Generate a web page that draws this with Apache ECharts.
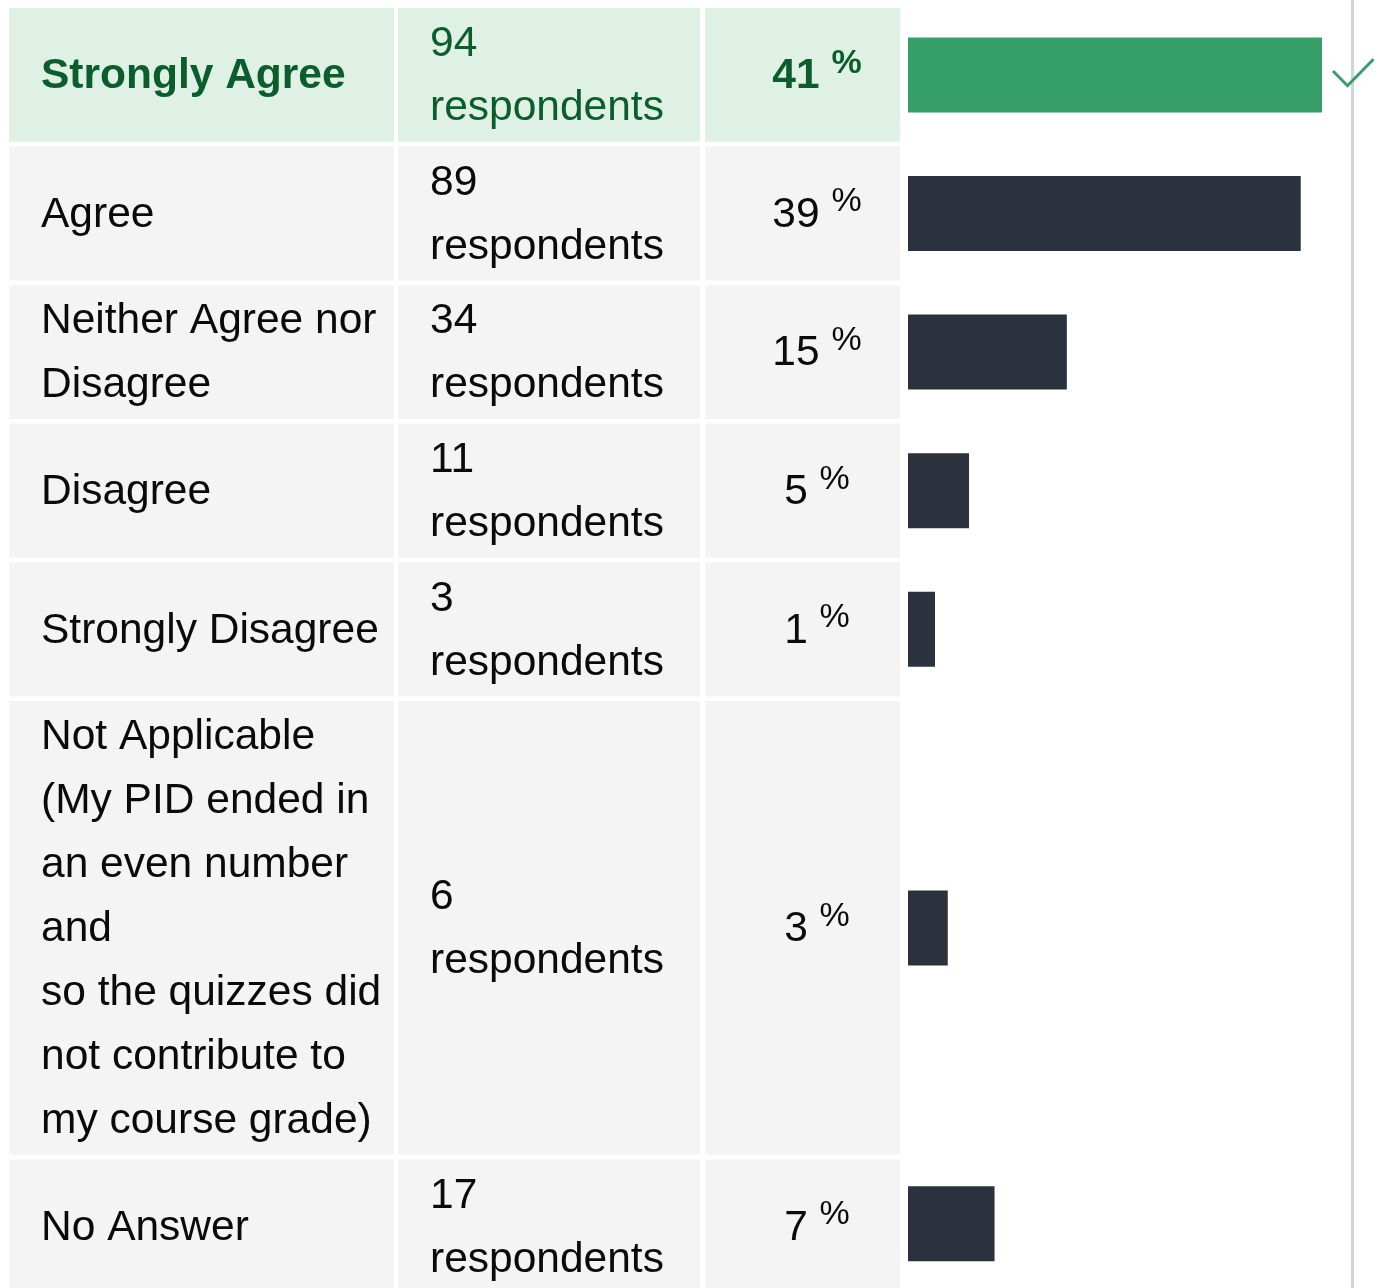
<!DOCTYPE html>
<html>
<head>
<meta charset="utf-8">
<title>Survey responses</title>
<script src="https://cdn.jsdelivr.net/npm/echarts@6/dist/echarts.min.js"></script>
<style>
  html, body { margin: 0; padding: 0; background: #ffffff; }
  #chart { width: 1382px; height: 1288px; }
</style>
</head>
<body>
<div id="chart"></div>
<script>
// ---- data ----
const categories = [
  'Strongly Agree',
  'Agree',
  'Neither Agree nor\nDisagree',
  'Disagree',
  'Strongly Disagree',
  'Not Applicable\n(My PID ended in\nan even number\nand\nso the quizzes did\nnot contribute to\nmy course grade)',
  'No Answer'
];
const counts = [94, 89, 34, 11, 3, 6, 17];
const percents = [41, 39, 15, 5, 1, 3, 7];
const countUnit = 'respondents';
const correctIndex = 0;

// ---- layout & style ----
const FONT = '"Liberation Sans", Arial, Helvetica, sans-serif';
const FS = 42.5, FS_SUP = 34, LINE_H = 64;
const ROW_PAD = 5.8, ROW_GAP = 4.8, TOP = 8;
const COLS = [{ x: 9, w: 385 }, { x: 398, w: 302 }, { x: 705, w: 195 }];
const TEXT_X = [41, 430];
const PCT_CENTER_X = 817;
const BAR_LEFT = 908, BAR_H = 75;
const AXIS_MIN = -3.35, AXIS_MAX = 100, PX_PER_UNIT = 4.2526;

const C_HEAD_BG = '#dff0e5', C_BG = '#f4f4f4';
const C_HEAD_TXT = '#0b5e2b', C_TXT = '#0a0a0a';
const C_HEAD_BAR = '#359f67', C_BAR = '#2b323d';
const C_RULE = '#cfd5de';

// row geometry from the number of text lines in each row
const rows = [];
let y = TOP;
categories.forEach(function (c) {
  const lines = Math.max(c.split('\n').length, 2);
  const h = lines * LINE_H + ROW_PAD;
  rows.push({ top: y, h: h, mid: y + h / 2 });
  y += h + ROW_GAP;
});

const grids = [], xAxes = [], yAxes = [], series = [], graphics = [];

// right-hand rule line
graphics.push({
  type: 'rect', z: 0,
  shape: { x: 1351, y: 0, width: 3, height: 1288 },
  style: { fill: C_RULE }
});

rows.forEach(function (r, i) {
  const head = i === correctIndex;
  const bg = head ? C_HEAD_BG : C_BG;
  const tc = head ? C_HEAD_TXT : C_TXT;

  COLS.forEach(function (col) {
    graphics.push({
      type: 'rect', z: 0,
      shape: { x: col.x, y: r.top, width: col.w, height: r.h },
      style: { fill: bg }
    });
  });

  graphics.push({
    type: 'text', z: 1, x: TEXT_X[0], y: r.mid + 1.5,
    style: {
      text: categories[i], fill: tc, fontSize: FS, fontFamily: FONT,
      fontWeight: head ? 'bold' : 'normal', lineHeight: LINE_H,
      align: 'left', verticalAlign: 'middle'
    }
  });

  graphics.push({
    type: 'text', z: 1, x: TEXT_X[1], y: r.mid + 1.5,
    style: {
      text: counts[i] + '\n' + countUnit, fill: tc, fontSize: FS, fontFamily: FONT,
      lineHeight: LINE_H, align: 'left', verticalAlign: 'middle'
    }
  });

  const w = head ? 'bold' : 'normal';
  graphics.push({
    type: 'text', z: 1, x: PCT_CENTER_X, y: r.mid + 1.5,
    style: {
      text: '{n|' + percents[i] + ' }{s|%}',
      align: 'center', verticalAlign: 'middle',
      rich: {
        n: { fill: tc, fontSize: FS, fontFamily: FONT, fontWeight: w, lineHeight: LINE_H },
        s: { fill: tc, fontSize: FS_SUP, fontFamily: FONT, fontWeight: w, lineHeight: FS_SUP, padding: [0, 0, 26, 0] }
      }
    }
  });

  // one grid per row so each bar sits in its own row band
  grids.push({
    left: BAR_LEFT, top: r.top, height: r.h,
    width: (AXIS_MAX - AXIS_MIN) * PX_PER_UNIT, containLabel: false
  });
  xAxes.push({
    type: 'value', gridIndex: i, min: AXIS_MIN, max: AXIS_MAX, show: false
  });
  yAxes.push({
    type: 'category', gridIndex: i, data: [categories[i]], show: false
  });
  series.push({
    type: 'custom', name: categories[i], xAxisIndex: i, yAxisIndex: i,
    data: [[counts[i], 0]],
    renderItem: function (params, api) {
      const cs = params.coordSys;
      const end = api.coord([api.value(0), api.value(1)]);
      return {
        type: 'rect',
        shape: { x: cs.x, y: end[1] - BAR_H / 2, width: end[0] - cs.x, height: BAR_H },
        style: { fill: head ? C_HEAD_BAR : C_BAR }
      };
    },
    silent: true
  });
});

// check mark beside the highlighted answer
const cm = rows[correctIndex].mid;
graphics.push({
  type: 'polyline', z: 5,
  shape: { points: [[1333, cm - 3.9], [1347.5, cm + 10.8], [1373.5, cm - 15.6]] },
  style: { stroke: C_HEAD_BAR, lineWidth: 3, fill: null }
});

const chart = echarts.init(document.getElementById('chart'), null, { renderer: 'canvas' });
chart.setOption({
  backgroundColor: '#ffffff',
  animation: false,
  grid: grids,
  xAxis: xAxes,
  yAxis: yAxes,
  series: series,
  graphic: { elements: graphics }
});
</script>
</body>
</html>
